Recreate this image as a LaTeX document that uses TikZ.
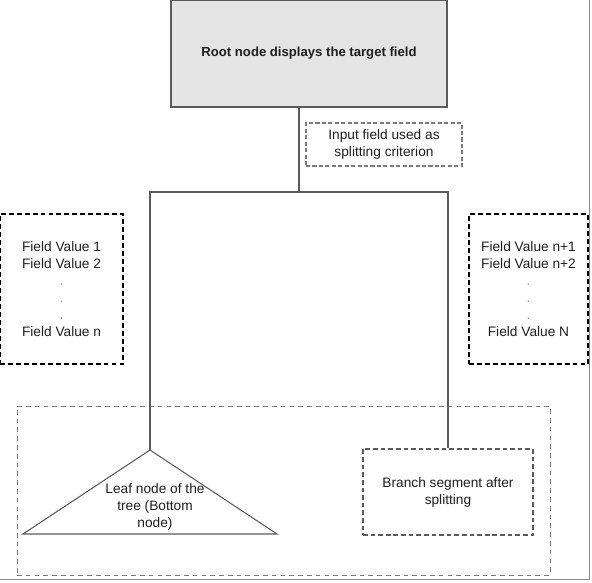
\documentclass[tikz,border=0pt]{standalone}
\usepackage{fontspec}
\setmainfont{Liberation Sans}
\usetikzlibrary{positioning}

\definecolor{rootgray}{HTML}{E4E4E4}
\definecolor{linegray}{HTML}{5A5A5A}
\definecolor{dashgray}{HTML}{7A7A7A}
\definecolor{framegray}{HTML}{8A8A8A}
\definecolor{textdark}{HTML}{1E1E1E}
\definecolor{dotgray}{HTML}{A0A0A0}

\newcommand{\vdot}{\textcolor{dotgray}{.}}

\begin{document}
\begin{tikzpicture}[
    x=0.03cm,y=-0.03cm,
    text=textdark,
    txt/.style={
        align=center,
        font=\fontsize{11.7}{14.5}\selectfont,
        inner sep=0pt
    },
    rootbox/.style={
        draw=linegray, line width=1.1pt,
        rectangle,
        fill=rootgray,
        minimum width=8.28cm,
        minimum height=3.21cm,
        align=center,
        font=\fontsize{11.2}{14}\selectfont\bfseries
    },
    critbox/.style={
        txt,
        draw=dashgray, line width=1pt,
        dash pattern=on 3.5pt off 2pt,
        minimum width=4.68cm,
        minimum height=1.29cm
    },
    valbox/.style={
        txt,
        draw=black, line width=1.6pt,
        dash pattern=on 4.2pt off 2.6pt,
        minimum height=4.5cm
    },
    segbox/.style={
        txt,
        draw=linegray, line width=1pt,
        dash pattern=on 4pt off 2.5pt,
        minimum width=5.1cm,
        minimum height=2.58cm
    },
    areabox/.style={
        draw=dashgray, line width=0.8pt,
        dash pattern=on 4pt off 3.5pt,
        minimum width=15.99cm,
        minimum height=5.07cm
    },
    tree/.style={draw=linegray, line width=0.9pt}
]
\useasboundingbox (0,0) rectangle (592,582);

% ====== root and split criterion ======
\node[rootbox] (root) at (309,53.5) {Root node displays the target field};
\node[critbox] (crit) at (384,144.5) {Input field used as\\splitting criterion};

% ====== field value lists ======
\node[valbox, minimum width=3.69cm] (left)  at (61.5,289)  {Field Value 1\\Field Value 2\\\vdot\\\vdot\\\vdot\\Field Value n};
\node[valbox, minimum width=3.57cm] (right) at (528.5,289) {Field Value n+1\\Field Value n+2\\\vdot\\\vdot\\\vdot\\Field Value N};

% ====== bottom area ======
\node[areabox] (area) at (283.5,490.5) {};
\node[segbox] (branch) at (448,492) {Branch segment after\\splitting};

\coordinate (leaf) at (150,450);
\coordinate (leafL) at (23,534);
\coordinate (leafR) at (277,534);
\draw[tree] (leaf) -- (leafR) -- (leafL) -- cycle;
\node[txt] (leaftext) at (155,507) {Leaf node of the\\tree (Bottom\\node)};

% ====== tree lines ======
\coordinate (fork) at (299,192);
\draw[tree] (root.south -| fork) -- (fork);
\draw[tree] (leaf) -- (leaf |- fork) -- (branch.north |- fork) -- (branch.north);

% frame edge
\draw[framegray, line width=1.3pt] (0,579.5) -- (589.5,579.5) -- (589.5,0);

\end{tikzpicture}
\end{document}
